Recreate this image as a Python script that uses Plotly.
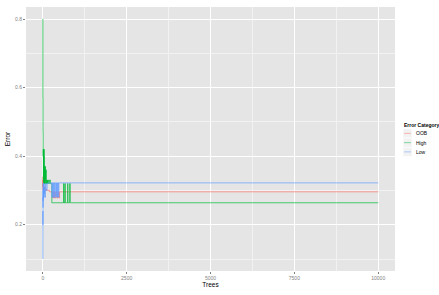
import plotly.graph_objects as go

# ---- data ----
oob_trees = [1, 3, 5, 8, 12, 16, 20, 30, 40, 60, 80, 100, 150, 200, 270, 300, 320, 350, 380, 420, 450, 480, 500, 10000]
oob_err = [0.30, 0.33, 0.31, 0.34, 0.31, 0.30, 0.32, 0.30, 0.31, 0.30, 0.305, 0.30, 0.30, 0.296, 0.296, 0.278, 0.296,
           0.278, 0.296, 0.278, 0.296, 0.278, 0.296, 0.296]

high_trees = [1, 3, 6, 10, 14, 18, 22, 26, 30, 34, 38, 42, 46, 50, 55, 60, 65, 70, 75, 80, 85, 90, 95, 100, 110, 120,
              130, 140, 150, 160, 180, 200, 230, 270, 620, 630, 660, 670, 740, 750, 800, 820, 10000]
high_err = [0.80, 0.57, 0.47, 0.40, 0.42, 0.33, 0.42, 0.32, 0.40, 0.33, 0.42, 0.32, 0.37, 0.32, 0.37, 0.33, 0.36, 0.32,
            0.37, 0.33, 0.36, 0.32, 0.36, 0.33, 0.32, 0.33, 0.32, 0.33, 0.32, 0.33, 0.32, 0.33, 0.32, 0.264, 0.32,
            0.264, 0.32, 0.264, 0.32, 0.264, 0.32, 0.264, 0.264]

low_trees = [1, 2, 3, 4, 5, 6, 8, 10, 12, 15, 18, 22, 26, 30, 35, 40, 50, 60, 80, 100, 130, 160, 270, 280, 300, 310,
             330, 340, 360, 370, 400, 410, 430, 440, 470, 480, 500, 10000]
low_err = [0.10, 0.16, 0.24, 0.20, 0.28, 0.25, 0.30, 0.27, 0.32, 0.28, 0.32, 0.29, 0.30, 0.28, 0.32, 0.29, 0.31, 0.28,
           0.32, 0.30, 0.32, 0.322, 0.28, 0.322, 0.28, 0.322, 0.28, 0.322, 0.28, 0.322, 0.28, 0.322, 0.28, 0.322,
           0.28, 0.322, 0.322, 0.322]

series_names = ["OOB", "High", "Low"]
series_colors = ["#F8766D", "#00BA38", "#619CFF"]
x_ticks = [0, 2500, 5000, 7500, 10000]
y_ticks = [0.2, 0.4, 0.6, 0.8]

W, H = 439, 295
ML, MR, MT, MB = 17.5, 44.3, 7.3, 22

fig = go.Figure()
for name, xs, ys, col in zip(series_names, [oob_trees, high_trees, low_trees], [oob_err, high_err, low_err],
                             series_colors):
    fig.add_trace(go.Scatter(x=xs, y=ys, mode="lines", name=name, line=dict(color=col, width=0.7, shape="hv"),
                             showlegend=False))

font = "Liberation Sans, Arial, sans-serif"
fig.update_layout(
    width=W, height=H,
    margin=dict(l=ML, r=MR, t=MT, b=MB, pad=0),
    paper_bgcolor="white", plot_bgcolor="#E5E5E5",
    font=dict(family=font, size=6, color="black"),
)
fig.update_xaxes(
    range=[-500, 10500], tickvals=x_ticks, ticktext=[str(v) for v in x_ticks],
    showgrid=True, gridcolor="white", gridwidth=0.8, zeroline=False,
    minor=dict(tickvals=[1250, 3750, 6250, 8750], showgrid=True, gridcolor="#F2F2F2", gridwidth=0.5),
    ticks="outside", ticklen=2, tickcolor="#7F7F7F", tickwidth=0.5,
    tickfont=dict(size=5, color="#7F7F7F"),
    title=dict(text="Trees", font=dict(size=6.5, color="black"), standoff=2),
)
fig.update_yaxes(
    range=[0.065, 0.835], tickvals=y_ticks, ticktext=["%.1f" % v for v in y_ticks],
    showgrid=True, gridcolor="white", gridwidth=0.8, zeroline=False,
    minor=dict(tickvals=[0.1, 0.3, 0.5, 0.7], showgrid=True, gridcolor="#F2F2F2", gridwidth=0.5),
    ticks="outside", ticklen=2, tickcolor="#7F7F7F", tickwidth=0.5,
    tickfont=dict(size=5, color="#7F7F7F"),
    title=dict(text="Error", font=dict(size=6.5, color="black"), standoff=3),
)

# ---- manual legend (ggplot-style) ----
pw = W - ML - MR
ph = H - MT - MB


def px(x):
    return (x - ML) / pw


def py(y):
    return 1 - (y - MT) / ph


fig.add_annotation(x=px(402), y=py(125.7), xref="paper", yref="paper", text="<b>Error Category</b>",
                   showarrow=False, xanchor="left", yanchor="middle", font=dict(size=5, color="black"))
for i, (name, col) in enumerate(zip(series_names, series_colors)):
    yc = 134.5 + i * 9.3
    fig.add_shape(type="rect", xref="paper", yref="paper", x0=px(403), x1=px(412), y0=py(yc - 4.5),
                  y1=py(yc + 4.5), fillcolor="#F2F2F2", line=dict(color="white", width=0.5), layer="below")
    fig.add_shape(type="line", xref="paper", yref="paper", x0=px(404), x1=px(411), y0=py(yc), y1=py(yc),
                  line=dict(color=col, width=0.8), opacity=0.6)
    fig.add_annotation(x=px(414.5), y=py(yc), xref="paper", yref="paper", text=name, showarrow=False,
                       xanchor="left", yanchor="middle", font=dict(size=5, color="black"))

fig.write_html("out.html")
